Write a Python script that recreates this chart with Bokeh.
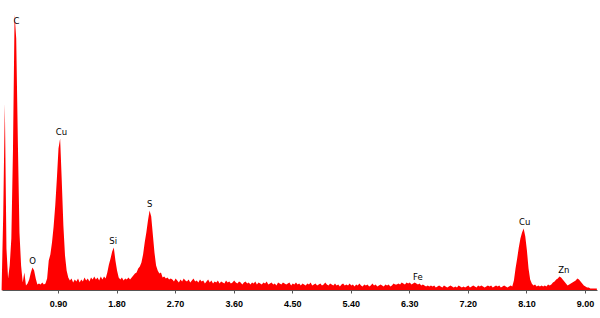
from bokeh.plotting import figure
from bokeh.models import Range1d, FixedTicker, ColumnDataSource
from bokeh.embed import file_html
from bokeh.resources import INLINE
from bokeh.core.properties import value

# ---- data -----------------------------------------------------------
channel_width_kev = 0.025  # energy per channel, channel 0 at 0 keV

counts = [
    # 0.000 - 2.625 keV
    0, 0, 75, 187, 42, 12, 25, 52, 140, 276,
    252, 150, 58, 25, 8, 18, 5, 7, 11, 18,
    23, 20, 12, 6, 7, 6, 8, 6, 7, 12,
    30, 36, 48, 64, 85, 112, 142, 152, 110, 65,
    35, 20, 13, 10, 12, 8, 11, 9, 12, 8,
    11, 9, 13, 10, 12, 9, 13, 11, 14, 11,
    13, 10, 14, 11, 14, 12, 18, 26, 32, 39,
    43, 30, 20, 13, 11, 13, 10, 12, 11, 13,
    11, 13, 15, 17, 18, 22, 24, 28, 36, 48,
    58, 70, 80, 74, 56, 38, 25, 20, 17, 18,
    13, 14, 12, 13, 11, 12,
    # background 2.65 - 7.85 keV
    11, 9, 12, 10, 8, 11, 9, 12, 10, 9,
    11, 8, 10, 12, 9, 10, 8, 11, 9, 10,
    7, 9, 11, 8, 10, 7, 9, 8, 10, 7,
    9, 8, 7, 10, 8, 9, 7, 8, 10, 8,
    7, 9, 8, 6, 8, 9, 7, 8, 6, 8,
    7, 9, 6, 8, 7, 6, 8, 7, 9, 6,
    7, 8, 6, 7, 5, 8, 7, 6, 8, 7,
    6, 7, 8, 5, 7, 6, 8, 6, 7, 5,
    7, 6, 5, 7, 6, 8, 5, 6, 7, 5,
    6, 7, 5, 6, 8, 6, 5, 7, 6, 5,
    7, 5, 6, 4, 6, 7, 5, 6, 5, 7,
    5, 6, 4, 6, 5, 7, 5, 4, 6, 5,
    6, 4, 5, 7, 5, 6, 4, 5, 6, 5,
    4, 6, 5, 6, 4, 5, 7, 6, 6, 7,
    6, 8, 7, 6, 8, 7, 8, 6, 7, 8,
    7, 6, 7, 5, 6, 5, 4, 5, 4, 5,
    4, 5, 3, 4, 5, 4, 3, 5, 4, 3,
    4, 5, 4, 3, 4, 3, 5, 4, 3, 4,
    3, 4, 5, 3, 4, 5, 4, 3, 5, 4,
    5, 4, 3, 4, 5, 4, 5, 3, 4, 5,
    4, 5, 3, 4, 5, 4, 3, 4, 5,
    # Cu K / Zn K region 7.875 - 9.175 keV
    4, 10, 22, 32, 43, 52, 58, 62, 54, 40,
    22, 11, 7, 5, 6, 4, 5, 4, 5, 4,
    5, 4, 6, 5, 6, 8, 9, 11, 12, 14,
    13, 11, 9, 7, 5, 6, 7, 8, 9, 10,
    12, 11, 9, 7, 5, 4, 3, 3, 2, 2,
    2, 2, 2,
]
energies = [round(i * channel_width_kev, 4) for i in range(len(counts))]

peak_labels = ["C", "O", "Cu", "Si", "S", "Fe", "Cu", "Zn"]
peak_label_kev = [0.254, 0.500, 0.946, 1.741, 2.303, 6.423, 8.067, 8.667]
peak_label_counts = [270, 30, 159, 50, 86.5, 13.3, 68.3, 21]

tick_values = [0.90, 1.80, 2.70, 3.60, 4.50, 5.40, 6.30, 7.20, 8.10, 9.00]
tick_labels = ["0.90", "1.80", "2.70", "3.60", "4.50", "5.40", "6.30", "7.20", "8.10", "9.00"]

# ---- figure ---------------------------------------------------------
p = figure(width=600, height=318, output_backend="svg", toolbar_location=None,
           x_range=Range1d(0.0085, 9.231), y_range=Range1d(0, 290),
           y_axis_location=None, min_border_left=0, min_border_right=0,
           min_border_top=0, min_border_bottom=28)
p.outline_line_color = None
p.grid.visible = False
p.background_fill_color = "white"
p.border_fill_color = "white"

src = ColumnDataSource(dict(e=energies, c=counts, z=[0] * len(counts)))
p.varea(x="e", y1="z", y2="c", source=src, fill_color="#ff0000", fill_alpha=1.0)

lab = ColumnDataSource(dict(x=peak_label_kev, y=peak_label_counts, t=peak_labels))
p.text(x="x", y="y", text="t", source=lab, text_align="center", text_baseline="middle",
       text_font=value("DejaVu Sans"), text_font_size="8.5px", text_color="black")

ax = p.xaxis[0]
ax.ticker = FixedTicker(ticks=tick_values)
ax.major_label_overrides = {v: s for v, s in zip(tick_values, tick_labels)}
ax.bounds = (0.045, 9.18)
ax.axis_line_color = "#555555"
ax.axis_line_width = 1
ax.major_tick_line_color = "#555555"
ax.major_tick_out = 3
ax.major_tick_in = 0
ax.minor_tick_line_color = None
ax.major_label_standoff = 7
ax.major_label_text_font = "Liberation Sans"
ax.major_label_text_font_style = "bold"
ax.major_label_text_font_size = "9px"
ax.major_label_text_color = "black"

open("out.html", "w").write(file_html(p, INLINE))
